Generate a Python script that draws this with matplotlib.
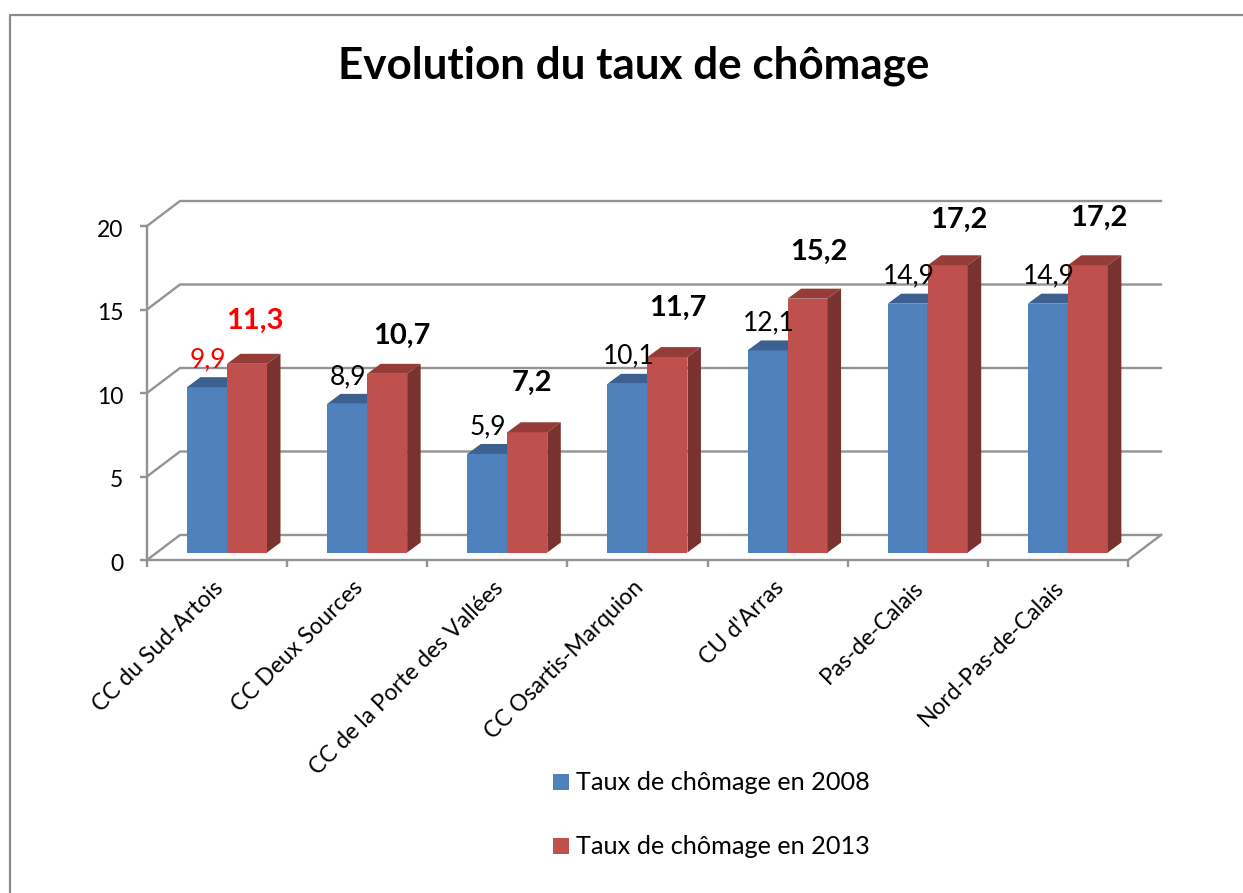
import numpy as np
import matplotlib
matplotlib.use('Agg')
import matplotlib.pyplot as plt
from matplotlib.patches import Polygon, Rectangle
from matplotlib.transforms import ScaledTranslation

categories = ['CC du Sud-Artois', 'CC Deux Sources', 'CC de la Porte des Vallées',
              'CC Osartis-Marquion', "CU d'Arras", 'Pas-de-Calais', 'Nord-Pas-de-Calais']
taux_2008 = [9.9, 8.9, 5.9, 10.1, 12.1, 14.9, 14.9]
taux_2013 = [11.3, 10.7, 7.2, 11.7, 15.2, 17.2, 17.2]
labels_2008 = ['9,9', '8,9', '5,9', '10,1', '12,1', '14,9', '14,9']
labels_2013 = ['11,3', '10,7', '7,2', '11,7', '15,2', '17,2', '17,2']
yticks = [0, 5, 10, 15, 20]
serie_names = ['Taux de chômage en 2008', 'Taux de chômage en 2013']
title = 'Evolution du taux de chômage'

W, H = 1243, 893
GREY = '#939393'
plt.rcParams['font.family'] = ['Lato', 'DejaVu Sans']

fig = plt.figure(figsize=(W / 100, H / 100), dpi=100)
# axes = front plane of the fake 3d box, in pixels of the reference
left, right, bottom, top = 147, 1128, 560, 226
ax = fig.add_axes([left / W, 1 - bottom / H, (right - left) / W, (bottom - top) / H])
ax.set_xlim(0, 7)
ax.set_ylim(0, 20)
ax.patch.set_visible(False)

px_x = 7 / (right - left)
px_y = 20 / (bottom - top)

# walls
wall_dx, wall_dy = 33 * px_x, 25 * px_y
for v in yticks:
    ax.plot([0, wall_dx, 7 + wall_dx], [v, v + wall_dy, v + wall_dy], color=GREY, lw=1.7,
            clip_on=False, zorder=1, solid_joinstyle='miter')
ax.plot([7, 7 + wall_dx], [0, wall_dy], color=GREY, lw=1.7, clip_on=False, zorder=1)

# bars
bar_w = 40 * px_x
side_x, side_y = 13.5 * px_x, 10 * px_y
off_x, off_y = 40 * px_x, 7.5 * px_y

# the 2013 labels were moved by hand in the original chart (pixels)
nudge_2013 = [(-1, 1), (6, -4), (-4, 8), (2, 8), (3, 5), (2, 4), (2, 6)]


def draw_bar(x0, val, front, topc, sidec, z):
    base = off_y
    ax.add_patch(Rectangle((x0, base), bar_w, val - base, fc=front, ec='none', zorder=z, clip_on=False))
    ax.add_patch(Polygon([(x0, val), (x0 + side_x, val + side_y), (x0 + bar_w + side_x, val + side_y),
                          (x0 + bar_w, val)], fc=topc, ec='none', zorder=z, clip_on=False))
    ax.add_patch(Polygon([(x0 + bar_w, base), (x0 + bar_w + side_x, base + side_y),
                          (x0 + bar_w + side_x, val + side_y), (x0 + bar_w, val)],
                         fc=sidec, ec='none', zorder=z, clip_on=False))


for i in range(len(categories)):
    x0 = i + off_x
    draw_bar(x0, taux_2008[i] + off_y, '#4f81bd', '#3c6191', '#3c6191', 3)
    draw_bar(x0 + bar_w, taux_2013[i] + off_y, '#c0504d', '#953c39', '#7a3230', 4)
    col = 'red' if i == 0 else 'black'
    ax.text(x0 + bar_w * 0.5 + 1 * px_x, taux_2008[i] + off_y + 1.65, labels_2008[i], color=col,
            fontsize=19, ha='center', va='center', zorder=6)
    nx, ny = nudge_2013[i]
    ax.text(x0 + bar_w * 1.72 + nx * px_x, taux_2013[i] + off_y + 2.5 + ny * px_y, labels_2013[i],
            color=col, fontsize=21, fontweight='bold', ha='center', va='center', zorder=6)

# axes
for s in ['top', 'right']:
    ax.spines[s].set_visible(False)
for s in ['left', 'bottom']:
    ax.spines[s].set_color(GREY)
    ax.spines[s].set_linewidth(1.7)
    ax.spines[s].set_zorder(2)
ax.set_yticks(yticks)
ax.set_xticks(np.arange(8))
ax.set_xticklabels([])
ax.tick_params(axis='both', color=GREY, width=1.7, length=5, labelsize=16.5, pad=12)
# tick labels sit a little lower than the ticks
shift_down = ScaledTranslation(0, -1.5 / 72, fig.dpi_scale_trans)
for lab in ax.get_yticklabels():
    lab.set_transform(lab.get_transform() + shift_down)

for i, c in enumerate(categories):
    ax.annotate(c, xy=(i + 0.5, 0), xytext=(-5, -17), textcoords='offset pixels', rotation=45,
                rotation_mode='anchor', ha='right', va='top', fontsize=16.5, annotation_clip=False)

fig.text(633.5 / W, 1 - 66 / H, title, fontsize=31.7, fontweight='bold', ha='center', va='center')

# legend
for name, col, y in zip(serie_names, ['#4f81bd', '#c0504d'], [782, 846]):
    fig.patches.append(Rectangle((553 / W, 1 - (y + 8) / H), 16 / W, 16 / H, fc=col, ec='none',
                                 transform=fig.transFigure))
    fig.text(576 / W, 1 - (y + 1) / H, name, fontsize=18.2, ha='left', va='center')

# outer frame, the right side is cut off in the original
fig.add_artist(plt.Line2D([9.5 / W, 9.5 / W, 1], [0, 1 - 15 / H, 1 - 15 / H], color='#8a8a8a', lw=1.6))

fig.savefig('out.png', dpi=100)
